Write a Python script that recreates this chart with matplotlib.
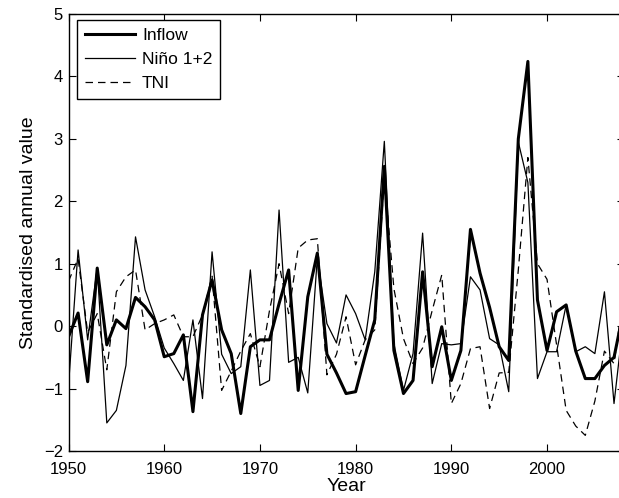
import numpy as np
import matplotlib.pyplot as plt

plt.rcParams['font.family'] = ['Liberation Sans', 'DejaVu Sans']

years = np.arange(1950, 2009)

inflow = [-0.17, 0.21, -0.89, 0.93, -0.30, 0.10, -0.04, 0.46, 0.31, 0.10,
          -0.49, -0.44, -0.14, -1.37, 0.18, 0.74, -0.06, -0.44, -1.40, -0.33,
          -0.22, -0.22, 0.36, 0.90, -1.03, 0.47, 1.17, -0.45, -0.75, -1.08,
          -1.05, -0.47, 0.10, 2.56, -0.39, -1.08, -0.87, 0.87, -0.65, -0.01,
          -0.87, -0.39, 1.55, 0.85, 0.30, -0.33, -0.55, 3.00, 4.24, 0.42,
          -0.39, 0.23, 0.34, -0.40, -0.84, -0.84, -0.63, -0.50, 0.25]

nino12 = [-0.95, 1.22, -0.22, 0.93, -1.55, -1.35, -0.63, 1.43, 0.58, 0.15,
          -0.35, -0.60, -0.87, 0.10, -1.16, 1.19, -0.45, -0.76, -0.65, 0.90,
          -0.95, -0.87, 1.86, -0.58, -0.50, -1.07, 1.10, 0.04, -0.27, 0.50,
          0.20, -0.22, 0.87, 2.96, -0.28, -1.03, -0.44, 1.49, -0.92, -0.28,
          -0.30, -0.28, 0.79, 0.58, -0.20, -0.30, -1.05, 2.95, 2.30, -0.84,
          -0.41, -0.41, 0.34, -0.41, -0.33, -0.44, 0.55, -1.24, 0.10]

tni = [0.72, 1.08, -0.10, 0.20, -0.70, 0.55, 0.79, 0.90, -0.06, 0.04,
       0.10, 0.18, -0.17, -0.17, 0.18, 0.80, -1.03, -0.72, -0.40, -0.12,
       -0.65, 0.25, 1.00, 0.20, 1.25, 1.38, 1.40, -0.78, -0.45, 0.15,
       -0.62, -0.22, -0.06, 2.40, 0.60, -0.20, -0.60, -0.35, 0.25, 0.82,
       -1.24, -0.92, -0.36, -0.33, -1.32, -0.75, -0.74, 0.90, 2.70, 1.00,
       0.75, -0.30, -1.35, -1.60, -1.75, -1.20, -0.40, -0.60, 0.50]

fig = plt.figure(figsize=(6.19, 4.98), dpi=100)
ax = fig.add_axes([0.1107, 0.0944, 0.8967, 0.8775])

ax.plot(years, inflow, color='black', linewidth=2.2, label='Inflow')
ax.plot(years, nino12, color='black', linewidth=0.9, label='Niño 1+2')
ax.plot(years, tni, color='black', linewidth=0.9, dashes=(6, 4), label='TNI')

ax.set_xlim(1950, 2008)
ax.set_ylim(-2, 5)
ax.set_xticks([1950, 1960, 1970, 1980, 1990, 2000])
ax.set_yticks(range(-2, 6))
ax.set_yticklabels(['\u22122', '\u22121', '0', '1', '2', '3', '4', '5'])
ax.tick_params(direction='in', top=True, right=True, length=5, labelsize=12)
ax.tick_params(axis='x', pad=8)
ax.tick_params(axis='y', pad=4)
for s in ax.spines.values():
    s.set_linewidth(1.0)

ax.set_xlabel('Year', fontsize=14, labelpad=1)
ax.set_ylabel('Standardised annual value', fontsize=14, labelpad=5)

leg = ax.legend(loc='upper left', bbox_to_anchor=(0.015, 0.986), borderaxespad=0,
                fontsize=12.5, handlelength=2.9, handletextpad=0.4, labelspacing=0.5,
                fancybox=False, edgecolor='black', framealpha=1, borderpad=0.45)
leg.get_frame().set_linewidth(1.0)

fig.savefig('out.png', dpi=100)
